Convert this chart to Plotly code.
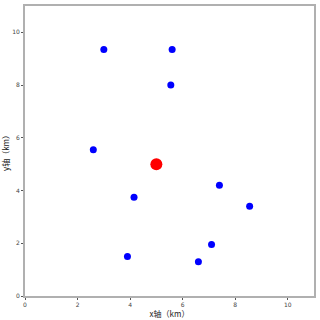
import plotly.graph_objects as go

blue_x = [3.0, 5.6, 5.55, 2.6, 4.15, 3.9, 7.4, 8.55, 7.1, 6.6]
blue_y = [9.35, 9.35, 8.0, 5.55, 3.75, 1.5, 4.2, 3.4, 1.95, 1.3]
center_x = [5.0]
center_y = [5.0]
tick_vals = [0, 2, 4, 6, 8, 10]

fig = go.Figure()
fig.add_trace(go.Scatter(x=blue_x, y=blue_y, mode="markers",
                         marker=dict(color="#0000ff", size=7, line=dict(width=0))))
fig.add_trace(go.Scatter(x=center_x, y=center_y, mode="markers",
                         marker=dict(color="#ff0000", size=12, line=dict(width=0))))

axis_common = dict(range=[0, 11], tickvals=tick_vals, showgrid=False, zeroline=False,
                   showline=True, mirror=True, linecolor="#b0b0b0", linewidth=2,
                   ticks="outside", ticklen=2, tickwidth=1, tickcolor="#555",
                   automargin=False,
                   tickfont=dict(size=6, color="#444", family="DejaVu Sans"))

fig.update_layout(
    width=320, height=320,
    margin=dict(l=25, r=6, t=6, b=24),
    paper_bgcolor="white", plot_bgcolor="white",
    showlegend=False,
    xaxis=dict(**axis_common, title=dict(text="x轴（km）", standoff=2,
               font=dict(size=8, color="#222", family="Noto Sans CJK SC"))),
    yaxis=dict(**axis_common, title=dict(text="y轴（km）", standoff=1,
               font=dict(size=8, color="#222", family="Noto Sans CJK SC"))),
)
fig.write_html("out.html")
